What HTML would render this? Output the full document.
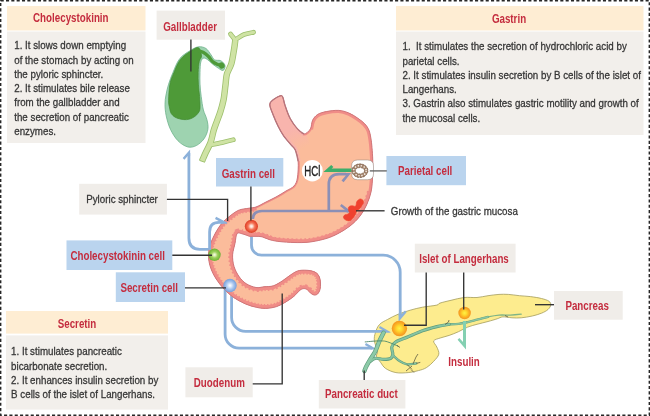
<!DOCTYPE html>
<html><head><meta charset="utf-8"><title>GI hormones</title>
<style>html,body{margin:0;padding:0;background:#fff}body{width:650px;height:416px;overflow:hidden;font-family:"Liberation Sans",sans-serif}svg{display:block;will-change:transform}</style></head>
<body>
<svg width="650" height="416" viewBox="0 0 650 416" font-family="Liberation Sans, sans-serif">
<rect width="650" height="416" fill="#fff"/>
<rect x="0.65" y="0.65" width="648.7" height="414.7" fill="none" stroke="#262626" stroke-width="1.5" stroke-dasharray="3.1 2.23"/>
<rect x="7" y="6" width="138.5" height="24.5" fill="#feedd3"/>
<rect x="7" y="31.5" width="138.5" height="111.5" fill="#f2efeb"/>
<text transform="translate(70.8,22.4) scale(0.815,1)" font-size="12" font-weight="bold" fill="#c42c3e" text-anchor="middle">Cholecystokinin</text>
<text transform="translate(14.2,49.2) scale(0.843,1)" font-size="11.6" fill="#363636" stroke="#363636" stroke-width="0.3" font-weight="normal" xml:space="preserve">1. It slows down emptying</text>
<text transform="translate(14.2,63.5) scale(0.843,1)" font-size="11.6" fill="#363636" stroke="#363636" stroke-width="0.3" font-weight="normal" xml:space="preserve">of the stomach by acting on</text>
<text transform="translate(14.2,77.8) scale(0.843,1)" font-size="11.6" fill="#363636" stroke="#363636" stroke-width="0.3" font-weight="normal" xml:space="preserve">the pyloric sphincter.</text>
<text transform="translate(14.2,92.1) scale(0.843,1)" font-size="11.6" fill="#363636" stroke="#363636" stroke-width="0.3" font-weight="normal" xml:space="preserve">2. It stimulates bile release</text>
<text transform="translate(14.2,106.4) scale(0.843,1)" font-size="11.6" fill="#363636" stroke="#363636" stroke-width="0.3" font-weight="normal" xml:space="preserve">from the gallbladder and</text>
<text transform="translate(14.2,120.7) scale(0.843,1)" font-size="11.6" fill="#363636" stroke="#363636" stroke-width="0.3" font-weight="normal" xml:space="preserve">the secretion of pancreatic</text>
<text transform="translate(14.2,135.0) scale(0.843,1)" font-size="11.6" fill="#363636" stroke="#363636" stroke-width="0.3" font-weight="normal" xml:space="preserve">enzymes.</text>
<rect x="396" y="6" width="247.5" height="24.5" fill="#feedd3"/>
<rect x="396" y="31.5" width="247.5" height="103.5" fill="#f2efeb"/>
<text transform="translate(509,23) scale(0.815,1)" font-size="12" font-weight="bold" fill="#c42c3e" text-anchor="middle">Gastrin</text>
<text transform="translate(402.5,50.2) scale(0.843,1)" font-size="11.6" fill="#363636" stroke="#363636" stroke-width="0.3" font-weight="normal" xml:space="preserve">1.  It stimulates the secretion of hydrochloric acid by</text>
<text transform="translate(402.5,64.5) scale(0.843,1)" font-size="11.6" fill="#363636" stroke="#363636" stroke-width="0.3" font-weight="normal" xml:space="preserve">parietal cells.</text>
<text transform="translate(402.5,78.8) scale(0.843,1)" font-size="11.6" fill="#363636" stroke="#363636" stroke-width="0.3" font-weight="normal" xml:space="preserve">2. It stimulates insulin secretion by B cells of the islet of</text>
<text transform="translate(402.5,93.1) scale(0.843,1)" font-size="11.6" fill="#363636" stroke="#363636" stroke-width="0.3" font-weight="normal" xml:space="preserve">Langerhans.</text>
<text transform="translate(402.5,107.4) scale(0.843,1)" font-size="11.6" fill="#363636" stroke="#363636" stroke-width="0.3" font-weight="normal" xml:space="preserve">3. Gastrin also stimulates gastric motility and growth of</text>
<text transform="translate(402.5,121.7) scale(0.843,1)" font-size="11.6" fill="#363636" stroke="#363636" stroke-width="0.3" font-weight="normal" xml:space="preserve">the mucosal cells.</text>
<rect x="6" y="311" width="162" height="22.6" fill="#feedd3"/>
<rect x="6" y="335.4" width="162" height="74.2" fill="#f2efeb"/>
<text transform="translate(77,328) scale(0.815,1)" font-size="12" font-weight="bold" fill="#c42c3e" text-anchor="middle">Secretin</text>
<text transform="translate(11.1,355.1) scale(0.843,1)" font-size="11.6" fill="#363636" stroke="#363636" stroke-width="0.3" font-weight="normal" xml:space="preserve">1. It stimulates pancreatic</text>
<text transform="translate(11.1,369.5) scale(0.843,1)" font-size="11.6" fill="#363636" stroke="#363636" stroke-width="0.3" font-weight="normal" xml:space="preserve">bicarbonate secretion.</text>
<text transform="translate(11.1,383.9) scale(0.843,1)" font-size="11.6" fill="#363636" stroke="#363636" stroke-width="0.3" font-weight="normal" xml:space="preserve">2. It enhances insulin secretion by</text>
<text transform="translate(11.1,398.3) scale(0.843,1)" font-size="11.6" fill="#363636" stroke="#363636" stroke-width="0.3" font-weight="normal" xml:space="preserve">B cells of the islet of Langerhans.</text>
<rect x="156.6" y="10.6" width="68.4" height="29.1" fill="#f0ede9"/>
<text transform="translate(163.2,31.2) scale(0.815,1)" font-size="12.0" font-weight="bold" fill="#c42c3e" text-anchor="start">Gallbladder</text>
<rect x="216.0" y="158.0" width="67.3" height="28.5" fill="#bad4ee"/>
<text transform="translate(221.7,177.8) scale(0.815,1)" font-size="12.0" font-weight="bold" fill="#c42c3e" text-anchor="start">Gastrin cell</text>
<rect x="66.5" y="240.4" width="105.8" height="29.6" fill="#bad4ee"/>
<text transform="translate(70.4,259.8) scale(0.815,1)" font-size="12.0" font-weight="bold" fill="#c42c3e" text-anchor="start">Cholecystokinin cell</text>
<rect x="115.8" y="272.3" width="69.2" height="29.7" fill="#bad4ee"/>
<text transform="translate(120.4,292.0) scale(0.815,1)" font-size="12.0" font-weight="bold" fill="#c42c3e" text-anchor="start">Secretin cell</text>
<rect x="386.4" y="156.0" width="79.6" height="29.2" fill="#bad4ee"/>
<text transform="translate(398.0,175.2) scale(0.815,1)" font-size="12.0" font-weight="bold" fill="#c42c3e" text-anchor="start">Parietal cell</text>
<rect x="414.8" y="243.7" width="100.8" height="28.8" fill="#f0ede9"/>
<text transform="translate(419.2,263.2) scale(0.815,1)" font-size="12.0" font-weight="bold" fill="#c42c3e" text-anchor="start">Islet of Langerhans</text>
<rect x="554.0" y="291.0" width="68.7" height="28.7" fill="#f0ede9"/>
<text transform="translate(565.4,309.8) scale(0.815,1)" font-size="12.0" font-weight="bold" fill="#c42c3e" text-anchor="start">Pancreas</text>
<rect x="318.8" y="380.0" width="86.6" height="28.5" fill="#f0ede9"/>
<text transform="translate(325.0,397.8) scale(0.815,1)" font-size="12.0" font-weight="bold" fill="#c42c3e" text-anchor="start">Pancreatic duct</text>
<rect x="185.4" y="367.3" width="67.3" height="30.0" fill="#f0ede9"/>
<text transform="translate(193.8,386.8) scale(0.815,1)" font-size="12.0" font-weight="bold" fill="#c42c3e" text-anchor="start">Duodenum</text>
<rect x="79.2" y="183.8" width="87.7" height="30.8" fill="#f0ede9"/>
<text transform="translate(86.2,203.4) scale(0.843,1)" font-size="11.6" fill="#363636" stroke="#363636" stroke-width="0.3" font-weight="normal" xml:space="preserve">Pyloric sphincter</text>
<text transform="translate(390.8,215.4) scale(0.843,1)" font-size="11.6" fill="#363636" stroke="#363636" stroke-width="0.3" font-weight="normal" xml:space="preserve">Growth of the gastric mucosa</text>
<text transform="translate(448.3,365.5) scale(0.815,1)" font-size="12" font-weight="bold" fill="#c42c3e">Insulin</text>
<g stroke-linecap="butt" stroke-linejoin="round" fill="none">
<path d="M235.3,40.2C235.1,41.9 234.6,46.5 233.9,50.4C233.2,54.3 232.5,60.0 231.3,63.9C230.1,67.8 227.9,70.6 226.9,74.1C225.9,77.6 226.1,80.7 225.5,85.0C224.9,89.3 224.4,95.5 223.5,100.0C222.6,104.5 221.4,108.5 220.3,112.0C219.2,115.5 218.1,118.0 217.0,121.0C215.9,124.0 214.9,126.5 213.8,130.0C212.7,133.6 212.1,138.2 210.6,142.3C209.1,146.4 206.2,151.4 204.8,154.6C203.4,157.8 202.5,160.1 202.0,161.2" stroke="#9cbf6c" stroke-width="6.4"/>
<path d="M230.5,34.0C230.8,34.4 231.7,35.5 232.5,36.5C233.3,37.5 234.8,39.6 235.3,40.2" stroke="#9cbf6c" stroke-width="4.8" stroke-linecap="round"/>
<path d="M253.5,32.3C251.9,32.7 246.8,33.4 244.0,34.5C241.2,35.6 237.8,38.2 236.5,39.0" stroke="#9cbf6c" stroke-width="4.8" stroke-linecap="round"/>
<path d="M210.5,145.0C212.4,144.6 218.2,143.5 222.0,142.6C225.8,141.7 231.4,140.3 233.3,139.8" stroke="#9cbf6c" stroke-width="4.8" stroke-linecap="round"/>
<path d="M235.3,40.2C235.1,41.9 234.6,46.5 233.9,50.4C233.2,54.3 232.5,60.0 231.3,63.9C230.1,67.8 227.9,70.6 226.9,74.1C225.9,77.6 226.1,80.7 225.5,85.0C224.9,89.3 224.4,95.5 223.5,100.0C222.6,104.5 221.4,108.5 220.3,112.0C219.2,115.5 218.1,118.0 217.0,121.0C215.9,124.0 214.9,126.5 213.8,130.0C212.7,133.6 212.1,138.2 210.6,142.3C209.1,146.4 206.2,151.4 204.8,154.6C203.4,157.8 202.5,160.1 202.0,161.2" stroke="#cfe3a4" stroke-width="4.8"/>
<path d="M230.5,34.0C230.8,34.4 231.7,35.5 232.5,36.5C233.3,37.5 234.8,39.6 235.3,40.2" stroke="#cfe3a4" stroke-width="3.2" stroke-linecap="round"/>
<path d="M253.5,32.3C251.9,32.7 246.8,33.4 244.0,34.5C241.2,35.6 237.8,38.2 236.5,39.0" stroke="#cfe3a4" stroke-width="3.2" stroke-linecap="round"/>
<path d="M210.5,145.0C212.4,144.6 218.2,143.5 222.0,142.6C225.8,141.7 231.4,140.3 233.3,139.8" stroke="#cfe3a4" stroke-width="3.2" stroke-linecap="round"/>
<path d="M199.4,160.4 L204.6,162.2" stroke="#9cbf6c" stroke-width="0.9"/>
</g>
<path d="M199.0,46.8C196.7,47.0 195.2,47.6 192.0,49.5C188.8,51.4 183.2,54.5 180.0,58.3C176.8,62.1 174.9,68.1 173.0,72.4C171.1,76.7 169.8,80.4 168.6,84.2C167.4,88.0 166.6,91.7 166.0,95.0C165.4,98.3 165.0,100.7 165.0,104.2C165.0,107.7 165.3,111.6 166.2,115.8C167.1,120.0 168.4,125.0 170.4,129.2C172.4,133.4 175.1,137.9 178.0,140.8C180.9,143.8 184.6,146.1 187.7,146.9C190.8,147.7 193.6,146.9 196.3,145.6C199.0,144.2 202.1,141.5 204.0,138.8C205.9,136.1 207.4,132.4 207.9,129.2C208.4,126.0 207.7,122.8 206.9,119.6C206.2,116.4 204.4,113.8 203.4,110.0C202.4,106.2 201.8,100.8 201.2,96.5C200.6,92.2 200.2,88.0 200.0,84.0C199.8,80.0 199.9,76.1 200.0,72.4C200.1,68.7 200.2,64.4 200.8,62.0C201.4,59.6 202.3,58.6 203.4,58.2C204.5,57.8 206.0,58.6 207.5,59.6C209.0,60.6 210.7,62.5 212.5,64.0C214.3,65.5 216.8,67.2 218.5,68.3C220.2,69.4 221.9,70.7 223.0,70.5C224.1,70.3 224.8,68.1 225.0,67.0C225.2,65.9 225.1,65.1 224.3,64.0C223.6,62.9 222.1,61.3 220.5,60.6C218.9,59.9 216.1,60.8 214.5,59.8C212.9,58.8 212.4,56.7 211.0,54.8C209.6,52.9 208.0,49.8 206.0,48.5C204.0,47.2 201.3,46.6 199.0,46.8Z" fill="#9ed3b0" stroke="#6fb38c" stroke-width="0.8"/>
<path d="M198.6,47.8C196.9,46.9 194.5,48.7 191.5,50.6C188.5,52.5 183.5,55.6 180.6,59.2C177.7,62.8 175.8,68.2 174.0,72.4C172.2,76.6 170.8,79.5 169.9,84.2C169.0,88.9 168.7,96.4 168.6,100.4C168.5,104.4 169.2,105.8 169.6,108.0C170.0,110.2 170.3,112.0 171.2,113.5C172.1,115.0 173.6,116.3 175.2,117.3C176.8,118.2 179.1,118.8 181.0,119.2C182.9,119.6 184.8,119.7 186.5,119.6C188.2,119.5 189.6,119.1 191.0,118.6C192.4,118.0 193.8,117.2 195.0,116.3C196.2,115.4 197.4,114.3 198.2,113.0C199.0,111.7 199.8,111.2 200.0,108.5C200.2,105.8 199.9,100.5 199.6,96.5C199.3,92.5 198.6,88.2 198.4,84.2C198.2,80.2 198.0,76.2 198.2,72.4C198.3,68.6 198.8,64.1 199.3,61.4C199.9,58.7 201.6,58.3 201.5,56.0C201.4,53.7 200.3,48.7 198.6,47.8Z" fill="#4e9a38" stroke="#418a2f" stroke-width="0.7"/>
<path d="M199.0,51.0C199.8,51.2 201.9,51.6 203.5,52.5C205.1,53.4 207.0,55.0 208.5,56.5C210.0,58.0 211.1,60.2 212.5,61.5C213.9,62.8 215.5,63.5 217.0,64.2C218.5,64.9 220.8,65.3 221.5,65.5" fill="none" stroke="#4e9a38" stroke-width="3.2" stroke-linecap="round"/>
<ellipse cx="221.6" cy="65.5" rx="2.9" ry="3.3" fill="#4e9a38" transform="rotate(-30 221.6 65.5)"/>
<path d="M550.8,304.9C550.6,306.3 549.5,308.1 548.0,309.5C546.5,310.9 544.1,312.1 541.5,313.2C538.9,314.3 535.7,315.2 532.3,316.0C528.9,316.8 524.6,317.5 521.2,317.8C517.8,318.1 515.1,318.0 512.0,317.8C508.9,317.6 505.3,316.7 502.8,316.9C500.3,317.1 499.7,318.0 497.2,318.8C494.7,319.6 491.4,320.6 488.0,321.5C484.6,322.4 480.4,323.4 477.0,324.3C473.6,325.2 470.8,325.9 467.7,327.1C464.6,328.3 461.6,330.3 458.5,331.7C455.4,333.1 452.1,334.4 449.2,335.4C446.3,336.4 443.5,336.9 440.9,337.8C438.3,338.7 434.4,339.4 433.7,340.9C433.0,342.4 435.9,344.8 436.8,347.0C437.7,349.2 439.3,351.8 438.8,354.2C438.3,356.6 435.7,359.1 433.7,361.3C431.7,363.5 429.2,365.9 426.6,367.5C424.1,369.1 421.5,369.8 418.4,370.6C415.3,371.5 411.9,372.3 408.2,372.6C404.4,372.9 399.6,373.3 395.9,372.6C392.1,371.9 388.2,370.2 385.7,368.5C383.1,366.8 382.1,364.4 380.6,362.4C379.1,360.3 377.0,358.1 376.5,356.2C376.0,354.3 377.9,353.7 377.5,351.1C377.1,348.6 374.8,344.0 374.4,340.9C374.0,337.8 374.5,335.4 375.4,332.7C376.2,330.0 377.4,326.7 379.5,324.5C381.6,322.3 384.6,321.1 387.7,319.4C390.8,317.7 394.2,315.8 398.0,314.3C401.8,312.8 406.1,311.4 410.2,310.2C414.3,309.0 418.1,308.0 422.5,307.2C426.9,306.4 433.9,305.8 436.8,305.1C439.7,304.4 437.6,303.9 440.0,303.1C442.4,302.3 447.0,301.2 451.0,300.3C455.0,299.4 459.7,298.0 464.0,297.5C468.3,297.0 473.0,297.8 477.0,297.5C481.0,297.2 484.3,296.2 488.0,295.7C491.7,295.2 495.6,294.6 499.0,294.4C502.4,294.2 504.9,294.2 508.3,294.4C511.7,294.6 515.7,295.3 519.4,295.7C523.1,296.1 526.8,296.1 530.5,296.6C534.2,297.1 538.4,297.7 541.5,298.5C544.6,299.3 547.4,300.1 548.9,301.2C550.4,302.3 550.9,303.5 550.8,304.9Z" fill="#fdec8e" stroke="#a39c5c" stroke-width="0.8"/>
<g fill="none" stroke="#8cb1da" stroke-width="2.8" stroke-linejoin="round">
<path d="M209,249.3 L200,249.3 Q188.9,249.3 188.9,238 L188.9,153"/>
<path d="M251.5,232 L251.5,245.2 A10,10 0 0 0 261.5,255.2 L383.2,255.2 A17,17 0 0 1 400.2,272.2 L400.2,316"/>
<path d="M225.1,289 L225.1,334.2 A14,14 0 0 0 239.1,348.2 L372,348.2"/>
<path d="M231.6,290 L231.6,317.4 A14,14 0 0 0 245.6,331.4 L386,331.4"/>
</g>
<g fill="#8cb1da">
<polygon points="190.1,149.6 190.1,156 187.7,156 184.4,159.8 182.7,158"/>
<polygon points="398.6,321.8 398.6,314 401.6,314 405,310.4 406.6,312.2"/>
<polygon points="376.5,348.9 366,342.9 364.9,345 370.5,348.2 370.5,349.5 376.5,349.5"/>
<polygon points="390.5,332 380,326 378.9,328.1 384.5,331.3 384.5,332.7 390.5,332.7"/>
</g>
<defs><clipPath id="oc"><path d="M269.8,104.4C269.9,101.9 271.8,101.0 273.5,99.6C275.2,98.2 278.6,96.2 280.2,95.8C281.8,95.4 282.0,95.5 282.8,97.2C283.6,98.9 283.9,102.3 285.2,105.9C286.4,109.5 288.2,115.0 290.3,118.8C292.4,122.6 295.2,126.4 297.5,128.9C299.8,131.4 301.9,134.0 304.0,134.0C306.1,134.0 309.0,131.2 310.4,128.9C311.8,126.6 311.4,122.7 312.6,120.3C313.8,117.9 315.3,116.0 317.6,114.5C319.9,113.0 322.8,112.3 326.3,111.6C329.8,110.9 334.9,110.2 338.7,110.4C342.4,110.6 345.7,111.7 348.8,113.0C351.9,114.3 354.9,116.2 357.5,118.0C360.1,119.8 362.8,121.8 364.7,123.8C366.6,125.8 367.9,127.6 369.0,130.3C370.1,133.1 370.7,137.0 371.2,140.3C371.7,143.7 371.9,146.5 372.2,150.4C372.5,154.3 372.8,159.1 372.8,164.0C372.8,168.9 372.7,175.3 372.4,180.0C372.1,184.7 371.9,188.0 371.0,192.0C370.1,196.0 368.8,200.0 367.0,204.0C365.2,208.0 362.8,212.3 360.0,216.0C357.2,219.7 353.7,223.1 350.0,226.0C346.3,228.9 342.0,231.5 338.0,233.6C334.0,235.7 330.7,237.2 326.0,238.6C321.3,240.0 315.3,241.3 310.0,242.0C304.7,242.7 299.0,242.6 294.0,242.5C289.0,242.4 284.0,242.0 280.0,241.6C276.0,241.2 273.0,240.6 270.0,239.8C267.0,239.0 264.3,237.4 262.0,236.8C259.7,236.2 258.0,236.4 256.0,236.3C254.0,236.2 251.6,236.5 250.0,236.3C248.4,236.1 247.9,235.6 246.5,235.2C245.1,234.8 243.1,233.9 241.5,233.6C239.9,233.3 238.1,232.0 237.0,233.6C235.9,235.2 235.7,239.8 235.0,243.3C234.3,246.8 232.8,251.0 232.6,254.8C232.4,258.6 232.9,262.8 234.0,266.4C235.1,270.0 237.0,273.6 239.0,276.5C241.0,279.4 243.4,281.9 246.2,283.7C249.0,285.5 253.0,287.0 256.0,287.5C259.0,288.0 261.1,287.1 264.0,286.8C266.9,286.5 270.3,286.8 273.4,285.8C276.5,284.8 279.6,282.6 282.5,280.8C285.4,279.0 288.0,276.6 290.5,275.0C293.0,273.4 295.1,271.8 297.5,271.0C299.9,270.2 302.4,270.2 304.7,270.2C306.9,270.2 309.1,270.4 311.0,270.8C312.9,271.2 314.8,271.8 316.2,272.8C317.6,273.8 318.7,275.3 319.4,277.0C320.1,278.7 320.4,280.9 320.5,283.0C320.6,285.1 320.5,287.7 320.0,289.5C319.5,291.3 318.5,293.1 317.5,294.0C316.5,294.9 315.2,295.2 314.0,295.0C312.8,294.8 311.6,293.9 310.5,293.0C309.4,292.1 308.5,290.5 307.4,289.8C306.3,289.1 305.1,288.5 303.9,288.6C302.7,288.7 301.7,288.9 300.0,290.2C298.3,291.5 296.2,294.4 293.8,296.4C291.4,298.3 288.8,300.2 285.9,301.9C283.0,303.6 280.0,305.5 276.6,306.6C273.2,307.7 269.0,308.3 265.6,308.4C262.2,308.5 259.7,308.1 256.3,307.3C252.9,306.6 249.2,305.5 245.4,303.9C241.6,302.2 237.1,299.9 233.5,297.4C229.9,294.9 226.7,291.9 223.8,288.8C220.9,285.7 218.4,282.4 216.2,279.0C214.0,275.6 212.1,271.8 210.8,268.2C209.5,264.6 208.8,261.0 208.6,257.4C208.4,253.8 208.8,250.2 209.7,246.6C210.6,243.0 212.2,239.4 214.0,235.8C215.8,232.2 218.2,228.0 220.5,225.0C222.8,222.0 224.5,220.4 227.5,218.0C230.5,215.6 234.7,212.0 238.3,210.4C241.9,208.8 246.1,208.8 249.0,208.2C251.9,207.6 253.2,208.0 256.0,207.0C258.8,206.0 262.7,203.7 266.0,202.0C269.3,200.3 272.7,198.8 276.0,197.0C279.3,195.2 283.0,192.8 286.0,191.0C289.0,189.2 292.1,188.2 294.0,186.0C295.9,183.8 296.7,182.1 297.4,178.0C298.1,173.9 298.5,166.1 298.2,161.4C297.9,156.7 296.5,152.8 295.3,150.0C294.1,147.2 292.9,147.1 291.0,144.8C289.1,142.5 286.0,139.2 283.8,136.1C281.6,133.0 279.8,129.6 278.0,126.0C276.2,122.4 274.4,118.1 273.0,114.5C271.6,110.9 269.7,106.9 269.8,104.4Z"/></clipPath>
<linearGradient id="eg" gradientUnits="userSpaceOnUse" x1="276" y1="100" x2="300" y2="150"><stop offset="0" stop-color="#f8b4ad"/><stop offset="0.6" stop-color="#f8b4ad"/><stop offset="1" stop-color="#f8b4ad" stop-opacity="0"/></linearGradient></defs>
<path d="M269.8,104.4C269.9,101.9 271.8,101.0 273.5,99.6C275.2,98.2 278.6,96.2 280.2,95.8C281.8,95.4 282.0,95.5 282.8,97.2C283.6,98.9 283.9,102.3 285.2,105.9C286.4,109.5 288.2,115.0 290.3,118.8C292.4,122.6 295.2,126.4 297.5,128.9C299.8,131.4 301.9,134.0 304.0,134.0C306.1,134.0 309.0,131.2 310.4,128.9C311.8,126.6 311.4,122.7 312.6,120.3C313.8,117.9 315.3,116.0 317.6,114.5C319.9,113.0 322.8,112.3 326.3,111.6C329.8,110.9 334.9,110.2 338.7,110.4C342.4,110.6 345.7,111.7 348.8,113.0C351.9,114.3 354.9,116.2 357.5,118.0C360.1,119.8 362.8,121.8 364.7,123.8C366.6,125.8 367.9,127.6 369.0,130.3C370.1,133.1 370.7,137.0 371.2,140.3C371.7,143.7 371.9,146.5 372.2,150.4C372.5,154.3 372.8,159.1 372.8,164.0C372.8,168.9 372.7,175.3 372.4,180.0C372.1,184.7 371.9,188.0 371.0,192.0C370.1,196.0 368.8,200.0 367.0,204.0C365.2,208.0 362.8,212.3 360.0,216.0C357.2,219.7 353.7,223.1 350.0,226.0C346.3,228.9 342.0,231.5 338.0,233.6C334.0,235.7 330.7,237.2 326.0,238.6C321.3,240.0 315.3,241.3 310.0,242.0C304.7,242.7 299.0,242.6 294.0,242.5C289.0,242.4 284.0,242.0 280.0,241.6C276.0,241.2 273.0,240.6 270.0,239.8C267.0,239.0 264.3,237.4 262.0,236.8C259.7,236.2 258.0,236.4 256.0,236.3C254.0,236.2 251.6,236.5 250.0,236.3C248.4,236.1 247.9,235.6 246.5,235.2C245.1,234.8 243.1,233.9 241.5,233.6C239.9,233.3 238.1,232.0 237.0,233.6C235.9,235.2 235.7,239.8 235.0,243.3C234.3,246.8 232.8,251.0 232.6,254.8C232.4,258.6 232.9,262.8 234.0,266.4C235.1,270.0 237.0,273.6 239.0,276.5C241.0,279.4 243.4,281.9 246.2,283.7C249.0,285.5 253.0,287.0 256.0,287.5C259.0,288.0 261.1,287.1 264.0,286.8C266.9,286.5 270.3,286.8 273.4,285.8C276.5,284.8 279.6,282.6 282.5,280.8C285.4,279.0 288.0,276.6 290.5,275.0C293.0,273.4 295.1,271.8 297.5,271.0C299.9,270.2 302.4,270.2 304.7,270.2C306.9,270.2 309.1,270.4 311.0,270.8C312.9,271.2 314.8,271.8 316.2,272.8C317.6,273.8 318.7,275.3 319.4,277.0C320.1,278.7 320.4,280.9 320.5,283.0C320.6,285.1 320.5,287.7 320.0,289.5C319.5,291.3 318.5,293.1 317.5,294.0C316.5,294.9 315.2,295.2 314.0,295.0C312.8,294.8 311.6,293.9 310.5,293.0C309.4,292.1 308.5,290.5 307.4,289.8C306.3,289.1 305.1,288.5 303.9,288.6C302.7,288.7 301.7,288.9 300.0,290.2C298.3,291.5 296.2,294.4 293.8,296.4C291.4,298.3 288.8,300.2 285.9,301.9C283.0,303.6 280.0,305.5 276.6,306.6C273.2,307.7 269.0,308.3 265.6,308.4C262.2,308.5 259.7,308.1 256.3,307.3C252.9,306.6 249.2,305.5 245.4,303.9C241.6,302.2 237.1,299.9 233.5,297.4C229.9,294.9 226.7,291.9 223.8,288.8C220.9,285.7 218.4,282.4 216.2,279.0C214.0,275.6 212.1,271.8 210.8,268.2C209.5,264.6 208.8,261.0 208.6,257.4C208.4,253.8 208.8,250.2 209.7,246.6C210.6,243.0 212.2,239.4 214.0,235.8C215.8,232.2 218.2,228.0 220.5,225.0C222.8,222.0 224.5,220.4 227.5,218.0C230.5,215.6 234.7,212.0 238.3,210.4C241.9,208.8 246.1,208.8 249.0,208.2C251.9,207.6 253.2,208.0 256.0,207.0C258.8,206.0 262.7,203.7 266.0,202.0C269.3,200.3 272.7,198.8 276.0,197.0C279.3,195.2 283.0,192.8 286.0,191.0C289.0,189.2 292.1,188.2 294.0,186.0C295.9,183.8 296.7,182.1 297.4,178.0C298.1,173.9 298.5,166.1 298.2,161.4C297.9,156.7 296.5,152.8 295.3,150.0C294.1,147.2 292.9,147.1 291.0,144.8C289.1,142.5 286.0,139.2 283.8,136.1C281.6,133.0 279.8,129.6 278.0,126.0C276.2,122.4 274.4,118.1 273.0,114.5C271.6,110.9 269.7,106.9 269.8,104.4Z" fill="#fbbc9b"/>
<g clip-path="url(#oc)" fill="none">
<path d="M262,90 L290,90 L312,150 L285,155 Z" fill="url(#eg)"/>
<path d="M269.8,104.4C269.9,101.9 271.8,101.0 273.5,99.6C275.2,98.2 278.6,96.2 280.2,95.8C281.8,95.4 282.0,95.5 282.8,97.2C283.6,98.9 283.9,102.3 285.2,105.9C286.4,109.5 288.2,115.0 290.3,118.8C292.4,122.6 295.2,126.4 297.5,128.9C299.8,131.4 301.9,134.0 304.0,134.0C306.1,134.0 309.0,131.2 310.4,128.9C311.8,126.6 311.4,122.7 312.6,120.3C313.8,117.9 315.3,116.0 317.6,114.5C319.9,113.0 322.8,112.3 326.3,111.6C329.8,110.9 334.9,110.2 338.7,110.4C342.4,110.6 345.7,111.7 348.8,113.0C351.9,114.3 354.9,116.2 357.5,118.0C360.1,119.8 362.8,121.8 364.7,123.8C366.6,125.8 367.9,127.6 369.0,130.3C370.1,133.1 370.7,137.0 371.2,140.3C371.7,143.7 371.9,146.5 372.2,150.4C372.5,154.3 372.8,159.1 372.8,164.0C372.8,168.9 372.7,175.3 372.4,180.0C372.1,184.7 371.9,188.0 371.0,192.0C370.1,196.0 368.8,200.0 367.0,204.0C365.2,208.0 362.8,212.3 360.0,216.0C357.2,219.7 353.7,223.1 350.0,226.0C346.3,228.9 342.0,231.5 338.0,233.6C334.0,235.7 330.7,237.2 326.0,238.6C321.3,240.0 315.3,241.3 310.0,242.0C304.7,242.7 299.0,242.6 294.0,242.5C289.0,242.4 284.0,242.0 280.0,241.6C276.0,241.2 273.0,240.6 270.0,239.8C267.0,239.0 264.3,237.4 262.0,236.8C259.7,236.2 258.0,236.4 256.0,236.3C254.0,236.2 251.6,236.5 250.0,236.3C248.4,236.1 247.9,235.6 246.5,235.2C245.1,234.8 243.1,233.9 241.5,233.6C239.9,233.3 238.1,232.0 237.0,233.6C235.9,235.2 235.7,239.8 235.0,243.3C234.3,246.8 232.8,251.0 232.6,254.8C232.4,258.6 232.9,262.8 234.0,266.4C235.1,270.0 237.0,273.6 239.0,276.5C241.0,279.4 243.4,281.9 246.2,283.7C249.0,285.5 253.0,287.0 256.0,287.5C259.0,288.0 261.1,287.1 264.0,286.8C266.9,286.5 270.3,286.8 273.4,285.8C276.5,284.8 279.6,282.6 282.5,280.8C285.4,279.0 288.0,276.6 290.5,275.0C293.0,273.4 295.1,271.8 297.5,271.0C299.9,270.2 302.4,270.2 304.7,270.2C306.9,270.2 309.1,270.4 311.0,270.8C312.9,271.2 314.8,271.8 316.2,272.8C317.6,273.8 318.7,275.3 319.4,277.0C320.1,278.7 320.4,280.9 320.5,283.0C320.6,285.1 320.5,287.7 320.0,289.5C319.5,291.3 318.5,293.1 317.5,294.0C316.5,294.9 315.2,295.2 314.0,295.0C312.8,294.8 311.6,293.9 310.5,293.0C309.4,292.1 308.5,290.5 307.4,289.8C306.3,289.1 305.1,288.5 303.9,288.6C302.7,288.7 301.7,288.9 300.0,290.2C298.3,291.5 296.2,294.4 293.8,296.4C291.4,298.3 288.8,300.2 285.9,301.9C283.0,303.6 280.0,305.5 276.6,306.6C273.2,307.7 269.0,308.3 265.6,308.4C262.2,308.5 259.7,308.1 256.3,307.3C252.9,306.6 249.2,305.5 245.4,303.9C241.6,302.2 237.1,299.9 233.5,297.4C229.9,294.9 226.7,291.9 223.8,288.8C220.9,285.7 218.4,282.4 216.2,279.0C214.0,275.6 212.1,271.8 210.8,268.2C209.5,264.6 208.8,261.0 208.6,257.4C208.4,253.8 208.8,250.2 209.7,246.6C210.6,243.0 212.2,239.4 214.0,235.8C215.8,232.2 218.2,228.0 220.5,225.0C222.8,222.0 224.5,220.4 227.5,218.0C230.5,215.6 234.7,212.0 238.3,210.4C241.9,208.8 246.1,208.8 249.0,208.2C251.9,207.6 253.2,208.0 256.0,207.0C258.8,206.0 262.7,203.7 266.0,202.0C269.3,200.3 272.7,198.8 276.0,197.0C279.3,195.2 283.0,192.8 286.0,191.0C289.0,189.2 292.1,188.2 294.0,186.0C295.9,183.8 296.7,182.1 297.4,178.0C298.1,173.9 298.5,166.1 298.2,161.4C297.9,156.7 296.5,152.8 295.3,150.0C294.1,147.2 292.9,147.1 291.0,144.8C289.1,142.5 286.0,139.2 283.8,136.1C281.6,133.0 279.8,129.6 278.0,126.0C276.2,122.4 274.4,118.1 273.0,114.5C271.6,110.9 269.7,106.9 269.8,104.4Z" stroke="#f08c87" stroke-width="3"/>
<path d="M310.4,128.9C310.8,127.5 311.4,122.7 312.6,120.3C313.8,117.9 315.3,116.0 317.6,114.5C319.9,113.0 322.8,112.3 326.3,111.6C329.8,110.9 334.9,110.2 338.7,110.4C342.4,110.6 345.7,111.7 348.8,113.0C351.9,114.3 354.9,116.2 357.5,118.0C360.1,119.8 362.8,121.8 364.7,123.8C366.6,125.8 367.9,127.6 369.0,130.3C370.1,133.1 370.7,137.0 371.2,140.3C371.7,143.7 371.9,146.5 372.2,150.4C372.5,154.3 372.8,159.1 372.8,164.0C372.8,168.9 372.7,175.3 372.4,180.0C372.1,184.7 371.9,188.0 371.0,192.0C370.1,196.0 368.8,200.0 367.0,204.0C365.2,208.0 361.2,214.0 360.0,216.0" stroke="#f08c87" stroke-width="5.4"/>
<path d="M270.0,239.8C268.7,239.3 264.3,237.4 262.0,236.8C259.7,236.2 258.0,236.4 256.0,236.3C254.0,236.2 251.6,236.5 250.0,236.3C248.4,236.1 247.9,235.6 246.5,235.2C245.1,234.8 243.1,233.9 241.5,233.6C239.9,233.3 238.1,232.0 237.0,233.6C235.9,235.2 235.7,239.8 235.0,243.3C234.3,246.8 232.8,251.0 232.6,254.8C232.4,258.6 232.9,262.8 234.0,266.4C235.1,270.0 237.0,273.6 239.0,276.5C241.0,279.4 243.4,281.9 246.2,283.7C249.0,285.5 253.0,287.0 256.0,287.5C259.0,288.0 261.1,287.1 264.0,286.8C266.9,286.5 270.3,286.8 273.4,285.8C276.5,284.8 279.6,282.6 282.5,280.8C285.4,279.0 288.0,276.6 290.5,275.0C293.0,273.4 295.1,271.8 297.5,271.0C299.9,270.2 302.4,270.2 304.7,270.2C306.9,270.2 309.1,270.4 311.0,270.8C312.9,271.2 314.8,271.8 316.2,272.8C317.6,273.8 318.7,275.3 319.4,277.0C320.1,278.7 320.4,280.9 320.5,283.0C320.6,285.1 320.5,287.7 320.0,289.5C319.5,291.3 318.5,293.1 317.5,294.0C316.5,294.9 315.2,295.2 314.0,295.0C312.8,294.8 311.6,293.9 310.5,293.0C309.4,292.1 308.5,290.5 307.4,289.8C306.3,289.1 305.1,288.5 303.9,288.6C302.7,288.7 301.7,288.9 300.0,290.2C298.3,291.5 296.2,294.4 293.8,296.4C291.4,298.3 288.8,300.2 285.9,301.9C283.0,303.6 280.0,305.5 276.6,306.6C273.2,307.7 269.0,308.3 265.6,308.4C262.2,308.5 259.7,308.1 256.3,307.3C252.9,306.6 249.2,305.5 245.4,303.9C241.6,302.2 237.1,299.9 233.5,297.4C229.9,294.9 226.7,291.9 223.8,288.8C220.9,285.7 218.4,282.4 216.2,279.0C214.0,275.6 212.1,271.8 210.8,268.2C209.5,264.6 208.8,261.0 208.6,257.4C208.4,253.8 208.8,250.2 209.7,246.6C210.6,243.0 212.2,239.4 214.0,235.8C215.8,232.2 218.2,228.0 220.5,225.0C222.8,222.0 224.5,220.4 227.5,218.0C230.5,215.6 234.7,212.0 238.3,210.4C241.9,208.8 246.1,208.8 249.0,208.2C251.9,207.6 254.8,207.2 256.0,207.0" stroke="#f08c87" stroke-width="6.6" stroke-linejoin="round"/>
<path d="M270.0,239.8C268.7,239.3 264.3,237.4 262.0,236.8C259.7,236.2 258.0,236.4 256.0,236.3C254.0,236.2 251.6,236.5 250.0,236.3C248.4,236.1 247.9,235.6 246.5,235.2C245.1,234.8 243.1,233.9 241.5,233.6C239.9,233.3 238.1,232.0 237.0,233.6C235.9,235.2 235.7,239.8 235.0,243.3C234.3,246.8 232.8,251.0 232.6,254.8C232.4,258.6 232.9,262.8 234.0,266.4C235.1,270.0 237.0,273.6 239.0,276.5C241.0,279.4 243.4,281.9 246.2,283.7C249.0,285.5 253.0,287.0 256.0,287.5C259.0,288.0 261.1,287.1 264.0,286.8C266.9,286.5 270.3,286.8 273.4,285.8C276.5,284.8 279.6,282.6 282.5,280.8C285.4,279.0 288.0,276.6 290.5,275.0C293.0,273.4 295.1,271.8 297.5,271.0C299.9,270.2 302.4,270.2 304.7,270.2C306.9,270.2 309.1,270.4 311.0,270.8C312.9,271.2 314.8,271.8 316.2,272.8C317.6,273.8 318.7,275.3 319.4,277.0C320.1,278.7 320.4,280.9 320.5,283.0C320.6,285.1 320.5,287.7 320.0,289.5C319.5,291.3 318.5,293.1 317.5,294.0C316.5,294.9 315.2,295.2 314.0,295.0C312.8,294.8 311.6,293.9 310.5,293.0C309.4,292.1 308.5,290.5 307.4,289.8C306.3,289.1 305.1,288.5 303.9,288.6C302.7,288.7 301.7,288.9 300.0,290.2C298.3,291.5 296.2,294.4 293.8,296.4C291.4,298.3 288.8,300.2 285.9,301.9C283.0,303.6 280.0,305.5 276.6,306.6C273.2,307.7 269.0,308.3 265.6,308.4C262.2,308.5 259.7,308.1 256.3,307.3C252.9,306.6 249.2,305.5 245.4,303.9C241.6,302.2 237.1,299.9 233.5,297.4C229.9,294.9 226.7,291.9 223.8,288.8C220.9,285.7 218.4,282.4 216.2,279.0C214.0,275.6 212.1,271.8 210.8,268.2C209.5,264.6 208.8,261.0 208.6,257.4C208.4,253.8 208.8,250.2 209.7,246.6C210.6,243.0 212.2,239.4 214.0,235.8C215.8,232.2 218.2,228.0 220.5,225.0C222.8,222.0 224.5,220.4 227.5,218.0C230.5,215.6 234.7,212.0 238.3,210.4C241.9,208.8 246.1,208.8 249.0,208.2C251.9,207.6 254.8,207.2 256.0,207.0" stroke="#f08c87" stroke-width="8.6" stroke-dasharray="1.5 2.1"/>
<path d="M371.0,192.0C370.3,194.0 368.8,200.0 367.0,204.0C365.2,208.0 362.8,212.3 360.0,216.0C357.2,219.7 353.7,223.1 350.0,226.0C346.3,228.9 342.0,231.5 338.0,233.6C334.0,235.7 330.7,237.2 326.0,238.6C321.3,240.0 315.3,241.3 310.0,242.0C304.7,242.7 299.0,242.6 294.0,242.5C289.0,242.4 284.0,242.0 280.0,241.6C276.0,241.2 273.0,240.6 270.0,239.8C267.0,239.0 264.3,237.4 262.0,236.8C259.7,236.2 257.0,236.4 256.0,236.3" stroke="#f08c87" stroke-width="8.2" stroke-dasharray="1.8 2.6"/>
<path d="M371.0,192.0C370.3,194.0 368.8,200.0 367.0,204.0C365.2,208.0 362.8,212.3 360.0,216.0C357.2,219.7 353.7,223.1 350.0,226.0C346.3,228.9 342.0,231.5 338.0,233.6C334.0,235.7 330.7,237.2 326.0,238.6C321.3,240.0 315.3,241.3 310.0,242.0C304.7,242.7 299.0,242.6 294.0,242.5C289.0,242.4 284.0,242.0 280.0,241.6C276.0,241.2 273.0,240.6 270.0,239.8C267.0,239.0 264.3,237.4 262.0,236.8C259.7,236.2 257.0,236.4 256.0,236.3" stroke="#f08c87" stroke-width="6.8"/>
<path d="M298.2,161.4C297.7,159.5 296.5,152.8 295.3,150.0C294.1,147.2 292.9,147.1 291.0,144.8C289.1,142.5 286.0,139.2 283.8,136.1C281.6,133.0 279.8,129.6 278.0,126.0C276.2,122.4 274.4,118.1 273.0,114.5C271.6,110.9 269.7,106.9 269.8,104.4C269.9,101.9 271.8,101.0 273.5,99.6C275.2,98.2 278.6,96.2 280.2,95.8C281.8,95.4 282.0,95.5 282.8,97.2C283.6,98.9 283.9,102.3 285.2,105.9C286.4,109.5 288.2,115.0 290.3,118.8C292.4,122.6 295.2,126.4 297.5,128.9C299.8,131.4 302.9,133.2 304.0,134.0" stroke="#f8b4ad" stroke-width="5"/>
</g>
<path d="M269.8,104.4C269.9,101.9 271.8,101.0 273.5,99.6C275.2,98.2 278.6,96.2 280.2,95.8C281.8,95.4 282.0,95.5 282.8,97.2C283.6,98.9 283.9,102.3 285.2,105.9C286.4,109.5 288.2,115.0 290.3,118.8C292.4,122.6 295.2,126.4 297.5,128.9C299.8,131.4 301.9,134.0 304.0,134.0C306.1,134.0 309.0,131.2 310.4,128.9C311.8,126.6 311.4,122.7 312.6,120.3C313.8,117.9 315.3,116.0 317.6,114.5C319.9,113.0 322.8,112.3 326.3,111.6C329.8,110.9 334.9,110.2 338.7,110.4C342.4,110.6 345.7,111.7 348.8,113.0C351.9,114.3 354.9,116.2 357.5,118.0C360.1,119.8 362.8,121.8 364.7,123.8C366.6,125.8 367.9,127.6 369.0,130.3C370.1,133.1 370.7,137.0 371.2,140.3C371.7,143.7 371.9,146.5 372.2,150.4C372.5,154.3 372.8,159.1 372.8,164.0C372.8,168.9 372.7,175.3 372.4,180.0C372.1,184.7 371.9,188.0 371.0,192.0C370.1,196.0 368.8,200.0 367.0,204.0C365.2,208.0 362.8,212.3 360.0,216.0C357.2,219.7 353.7,223.1 350.0,226.0C346.3,228.9 342.0,231.5 338.0,233.6C334.0,235.7 330.7,237.2 326.0,238.6C321.3,240.0 315.3,241.3 310.0,242.0C304.7,242.7 299.0,242.6 294.0,242.5C289.0,242.4 284.0,242.0 280.0,241.6C276.0,241.2 273.0,240.6 270.0,239.8C267.0,239.0 264.3,237.4 262.0,236.8C259.7,236.2 258.0,236.4 256.0,236.3C254.0,236.2 251.6,236.5 250.0,236.3C248.4,236.1 247.9,235.6 246.5,235.2C245.1,234.8 243.1,233.9 241.5,233.6C239.9,233.3 238.1,232.0 237.0,233.6C235.9,235.2 235.7,239.8 235.0,243.3C234.3,246.8 232.8,251.0 232.6,254.8C232.4,258.6 232.9,262.8 234.0,266.4C235.1,270.0 237.0,273.6 239.0,276.5C241.0,279.4 243.4,281.9 246.2,283.7C249.0,285.5 253.0,287.0 256.0,287.5C259.0,288.0 261.1,287.1 264.0,286.8C266.9,286.5 270.3,286.8 273.4,285.8C276.5,284.8 279.6,282.6 282.5,280.8C285.4,279.0 288.0,276.6 290.5,275.0C293.0,273.4 295.1,271.8 297.5,271.0C299.9,270.2 302.4,270.2 304.7,270.2C306.9,270.2 309.1,270.4 311.0,270.8C312.9,271.2 314.8,271.8 316.2,272.8C317.6,273.8 318.7,275.3 319.4,277.0C320.1,278.7 320.4,280.9 320.5,283.0C320.6,285.1 320.5,287.7 320.0,289.5C319.5,291.3 318.5,293.1 317.5,294.0C316.5,294.9 315.2,295.2 314.0,295.0C312.8,294.8 311.6,293.9 310.5,293.0C309.4,292.1 308.5,290.5 307.4,289.8C306.3,289.1 305.1,288.5 303.9,288.6C302.7,288.7 301.7,288.9 300.0,290.2C298.3,291.5 296.2,294.4 293.8,296.4C291.4,298.3 288.8,300.2 285.9,301.9C283.0,303.6 280.0,305.5 276.6,306.6C273.2,307.7 269.0,308.3 265.6,308.4C262.2,308.5 259.7,308.1 256.3,307.3C252.9,306.6 249.2,305.5 245.4,303.9C241.6,302.2 237.1,299.9 233.5,297.4C229.9,294.9 226.7,291.9 223.8,288.8C220.9,285.7 218.4,282.4 216.2,279.0C214.0,275.6 212.1,271.8 210.8,268.2C209.5,264.6 208.8,261.0 208.6,257.4C208.4,253.8 208.8,250.2 209.7,246.6C210.6,243.0 212.2,239.4 214.0,235.8C215.8,232.2 218.2,228.0 220.5,225.0C222.8,222.0 224.5,220.4 227.5,218.0C230.5,215.6 234.7,212.0 238.3,210.4C241.9,208.8 246.1,208.8 249.0,208.2C251.9,207.6 253.2,208.0 256.0,207.0C258.8,206.0 262.7,203.7 266.0,202.0C269.3,200.3 272.7,198.8 276.0,197.0C279.3,195.2 283.0,192.8 286.0,191.0C289.0,189.2 292.1,188.2 294.0,186.0C295.9,183.8 296.7,182.1 297.4,178.0C298.1,173.9 298.5,166.1 298.2,161.4C297.9,156.7 296.5,152.8 295.3,150.0C294.1,147.2 292.9,147.1 291.0,144.8C289.1,142.5 286.0,139.2 283.8,136.1C281.6,133.0 279.8,129.6 278.0,126.0C276.2,122.4 274.4,118.1 273.0,114.5C271.6,110.9 269.7,106.9 269.8,104.4Z" fill="none" stroke="#cf777b" stroke-width="1"/>
<path d="M298.2,161.4C297.7,159.5 296.5,152.8 295.3,150.0C294.1,147.2 292.9,147.1 291.0,144.8C289.1,142.5 286.0,139.2 283.8,136.1C281.6,133.0 279.8,129.6 278.0,126.0C276.2,122.4 274.4,118.1 273.0,114.5C271.6,110.9 269.7,106.9 269.8,104.4C269.9,101.9 271.8,101.0 273.5,99.6C275.2,98.2 278.6,96.2 280.2,95.8C281.8,95.4 282.0,95.5 282.8,97.2C283.6,98.9 283.9,102.3 285.2,105.9C286.4,109.5 288.2,115.0 290.3,118.8C292.4,122.6 295.2,126.4 297.5,128.9C299.8,131.4 302.9,133.2 304.0,134.0" fill="none" stroke="#b5757c" stroke-width="1.3"/>
<g fill="none" stroke="#8b8fb6" stroke-width="2.7" stroke-linejoin="round">
<path d="M252.8,219 Q253.2,211 262,211 L348,211"/>
<path d="M328.8,211 L328.8,184.5 Q328.8,174.2 339,174.2 L346,174.2"/>
</g>
<polygon points="352.6,212.5 341.6,204 340,206 346.6,211.2 346.6,212.5" fill="#8b8fb6"/>
<polygon points="350.8,173.2 343.6,182.2 341.5,180.6 345.8,175.5 345.8,172.9 350.8,172.9" fill="#8b8fb6"/>
<path d="M358.1,200.1C358.8,199.6 359.7,198.8 360.5,198.9C361.3,199.0 362.6,199.7 363.1,200.4C363.6,201.1 363.6,202.1 363.4,203.0C363.2,203.9 362.2,205.0 361.7,205.9C361.2,206.8 360.7,207.7 360.2,208.3C359.7,208.9 359.2,209.1 358.6,209.7C358.0,210.2 357.1,210.9 356.6,211.6C356.1,212.3 356.1,213.2 355.7,214.0C355.3,214.8 354.8,215.6 354.2,216.4C353.6,217.2 353.0,218.1 352.3,218.8C351.6,219.5 350.8,220.5 349.9,220.8C349.0,221.1 348.0,220.9 347.0,220.6C346.0,220.3 344.7,219.5 344.1,218.8C343.5,218.1 343.3,217.1 343.5,216.4C343.7,215.7 344.4,215.2 345.1,214.8C345.9,214.4 347.3,214.4 348.0,214.0C348.7,213.6 349.3,213.2 349.4,212.6C349.5,212.0 348.6,211.1 348.5,210.2C348.4,209.3 348.2,208.0 348.5,207.3C348.8,206.6 349.6,206.1 350.4,205.9C351.2,205.7 352.5,205.8 353.3,205.9C354.1,206.0 354.7,206.6 355.2,206.3C355.7,206.1 356.0,205.1 356.2,204.4C356.4,203.7 356.3,202.7 356.6,202.0C356.9,201.3 357.5,200.6 358.1,200.1Z" fill="#f0412f" stroke="#f0412f" stroke-width="0.6" stroke-linejoin="round"/>
<ellipse cx="312.3" cy="170.7" rx="10.5" ry="10.7" fill="#fff"/>
<text transform="translate(312.3,175.7) scale(0.69,1)" font-size="14" fill="#222" stroke="#222" stroke-width="0.35" text-anchor="middle">HCl</text>
<polygon points="323.4,172 331.2,165 333.4,166.9 331.6,168.5 353,168.5 353,172" fill="#3dae6a"/>
<path d="M357.5,160 Q351.6,160 351.6,166 L351.6,173.8 Q351.6,179.7 357.5,179.7 L367.5,179.7 Q373.5,179.7 373.5,173.8 L373.5,166 Q373.5,160 367.5,160 Z" fill="#fff" stroke="#8a8078" stroke-width="0.5"/>
<ellipse cx="359.9" cy="170.7" rx="6.3" ry="5.1" fill="none" stroke="#a08169" stroke-width="3.6"/>
<ellipse cx="359.9" cy="170.7" rx="6.3" ry="5.1" fill="none" stroke="#f4ece6" stroke-width="1.5" stroke-dasharray="1.4 1.6"/>
<ellipse cx="359.9" cy="170.7" rx="8" ry="6.8" fill="none" stroke="#735640" stroke-width="0.7" stroke-dasharray="2.2 0.9"/>
<ellipse cx="359.9" cy="170.7" rx="4.6" ry="3.1" fill="none" stroke="#735640" stroke-width="0.7" stroke-dasharray="1.8 0.9"/>
<path d="M209.6,250 L209.6,232 Q209.6,222.3 219,222.3 L223,222.3" fill="none" stroke="#8cb1da" stroke-width="2.8"/>
<polygon points="227.2,222.4 216.1,216.8 215,219 221,222.3 221,223.7 227.2,223.7" fill="#8cb1da"/>
<g fill="none" stroke-linecap="round" stroke-linejoin="round">
<path d="M521.2,314.2C519.4,314.4 513.9,315.0 510.2,315.1C506.5,315.2 502.7,314.8 499.0,315.1C495.3,315.4 491.7,316.1 488.0,316.9C484.3,317.7 480.4,318.8 477.0,319.7C473.6,320.6 470.8,321.4 467.7,322.1C464.6,322.8 461.6,323.5 458.5,323.9C455.4,324.3 450.8,324.2 449.2,324.3" stroke="#7fb487" stroke-width="1.3"/>
<path d="M488.0,316.9C486.2,317.4 480.4,318.8 477.0,319.7C473.6,320.6 470.8,321.4 467.7,322.1C464.6,322.8 461.6,323.5 458.5,323.9C455.4,324.3 450.8,324.2 449.2,324.3" stroke="#6fa985" stroke-width="2.4"/>
<path d="M488.0,316.9C486.2,317.4 480.4,318.8 477.0,319.7C473.6,320.6 470.8,321.4 467.7,322.1C464.6,322.8 461.6,323.5 458.5,323.9C455.4,324.3 450.8,324.2 449.2,324.3" stroke="#8cc6a2" stroke-width="1.2"/>
<path d="M449.2,324.3C447.1,324.7 441.2,325.5 436.8,326.6C432.4,327.7 427.3,329.0 422.5,330.7C417.7,332.4 412.6,334.9 408.2,336.8C403.8,338.7 398.6,340.2 395.9,341.9C393.2,343.6 392.3,344.9 391.8,347.0C391.3,349.1 393.0,352.3 392.8,354.2C392.6,356.1 392.3,357.4 390.8,358.3C389.3,359.2 386.2,359.3 383.6,359.3C381.0,359.3 377.6,358.0 375.4,358.3C373.2,358.6 371.1,360.8 370.3,361.3" stroke="#5f9c7c" stroke-width="3.2"/>
<path d="M392.8,355.2C394.0,356.2 397.6,359.8 400.0,361.3C402.4,362.8 404.4,364.0 407.1,364.4C409.8,364.8 414.8,363.6 416.3,363.4" stroke="#5f9c7c" stroke-width="2.4"/>
<path d="M383.6,332.7C382.9,334.1 380.9,337.8 379.5,340.9C378.1,344.0 376.9,348.0 375.4,351.1C373.9,354.2 371.8,356.8 370.3,359.3C368.8,361.8 367.5,364.1 366.5,366.0C365.5,367.9 364.8,370.2 364.4,371.0" stroke="#5f9c7c" stroke-width="4.4"/>
<path d="M449.2,324.3C447.1,324.7 441.2,325.5 436.8,326.6C432.4,327.7 427.3,329.0 422.5,330.7C417.7,332.4 412.6,334.9 408.2,336.8C403.8,338.7 398.6,340.2 395.9,341.9C393.2,343.6 392.3,344.9 391.8,347.0C391.3,349.1 393.0,352.3 392.8,354.2C392.6,356.1 392.3,357.4 390.8,358.3C389.3,359.2 386.2,359.3 383.6,359.3C381.0,359.3 377.6,358.0 375.4,358.3C373.2,358.6 371.1,360.8 370.3,361.3" stroke="#86c4a2" stroke-width="1.9"/>
<path d="M392.8,355.2C394.0,356.2 397.6,359.8 400.0,361.3C402.4,362.8 404.4,364.0 407.1,364.4C409.8,364.8 414.8,363.6 416.3,363.4" stroke="#86c4a2" stroke-width="1.2"/>
<path d="M383.6,332.7C382.9,334.1 380.9,337.8 379.5,340.9C378.1,344.0 376.9,348.0 375.4,351.1C373.9,354.2 371.8,356.8 370.3,359.3C368.8,361.8 367.5,364.1 366.5,366.0C365.5,367.9 364.8,370.2 364.4,371.0" stroke="#8ccaa8" stroke-width="3"/>
<path d="M365.2,341.9C366.5,341.8 370.3,341.4 373.0,341.2C375.7,341.0 379.2,340.8 381.6,340.9C384.1,341.0 385.0,341.0 387.7,341.9C390.4,342.8 396.2,345.3 397.9,346.0" stroke="#4f8a6a" stroke-width="0.9"/>
</g>
<g fill="none" stroke="#4a4a3a" stroke-width="0.7">
<path d="M407,364.4 l5,5 M412,366 l-6,5 M416.3,363.4 l4,-1 M413,364 l3,-7 M416,357 l2,-3 M411,369.5 l3,3 M397,345.5 l3,2 M445,324.5 l3.5,-2.5 l0.5,-2 M505,315.5 l3,1.5"/>
</g>
<path d="M464.5,321 L464.5,345" stroke="#84d0b2" stroke-width="3" fill="none"/>
<polygon points="466,349.5 466,342 463,342 459.3,338 457.6,339.8" fill="#84d0b2"/>
<defs>
<radialGradient id="gr" cx="0.5" cy="0.5" r="0.5"><stop offset="0" stop-color="#fff4ee"/><stop offset="0.18" stop-color="#fde0d4"/><stop offset="0.5" stop-color="#f5775a"/><stop offset="0.85" stop-color="#e64a30"/><stop offset="1" stop-color="#d8412c"/></radialGradient>
<radialGradient id="gg" cx="0.5" cy="0.5" r="0.5"><stop offset="0" stop-color="#f6fbe8"/><stop offset="0.18" stop-color="#dff0bd"/><stop offset="0.5" stop-color="#9ccf5c"/><stop offset="0.85" stop-color="#7bbb3e"/><stop offset="1" stop-color="#6fae38"/></radialGradient>
<radialGradient id="gb" cx="0.5" cy="0.5" r="0.5"><stop offset="0" stop-color="#ffffff"/><stop offset="0.2" stop-color="#e4eefb"/><stop offset="0.55" stop-color="#a9c6ee"/><stop offset="0.85" stop-color="#86abe0"/><stop offset="1" stop-color="#7a9fd8"/></radialGradient>
<radialGradient id="gy" cx="0.5" cy="0.5" r="0.5"><stop offset="0" stop-color="#fff04a"/><stop offset="0.35" stop-color="#ffd92e"/><stop offset="0.7" stop-color="#fbb024"/><stop offset="1" stop-color="#f3941f"/></radialGradient>
</defs>
<circle cx="251.4" cy="226.3" r="6.6" fill="url(#gr)"/>
<circle cx="214.5" cy="254.8" r="6.2" fill="url(#gg)"/>
<circle cx="230" cy="285.5" r="6.7" fill="url(#gb)"/>
<circle cx="399.4" cy="328.5" r="7.7" fill="url(#gy)"/>
<circle cx="464.6" cy="313" r="6.2" fill="url(#gy)"/>
<g fill="none" stroke="#333" stroke-width="1.35">
<path d="M190.9,39.5 V71.5"/>
<path d="M166.9,199.4 H227.6 V221"/>
<path d="M250.9,186.5 V220.5"/>
<path d="M172.3,255.2 H212"/>
<path d="M185,287.9 H226"/>
<path d="M369.8,170.9 H386.8" stroke="#666"/>
<path d="M356,210.8 H384.6"/>
<path d="M426.2,272.5 V325.2 H404"/>
<path d="M463.7,272.5 V309.5"/>
<path d="M535,304.7 H554"/>
<path d="M364.2,370.5 V380"/>
<path d="M252.7,383.8 H282.2 V293.5"/>
</g>
</svg>
</body></html>
